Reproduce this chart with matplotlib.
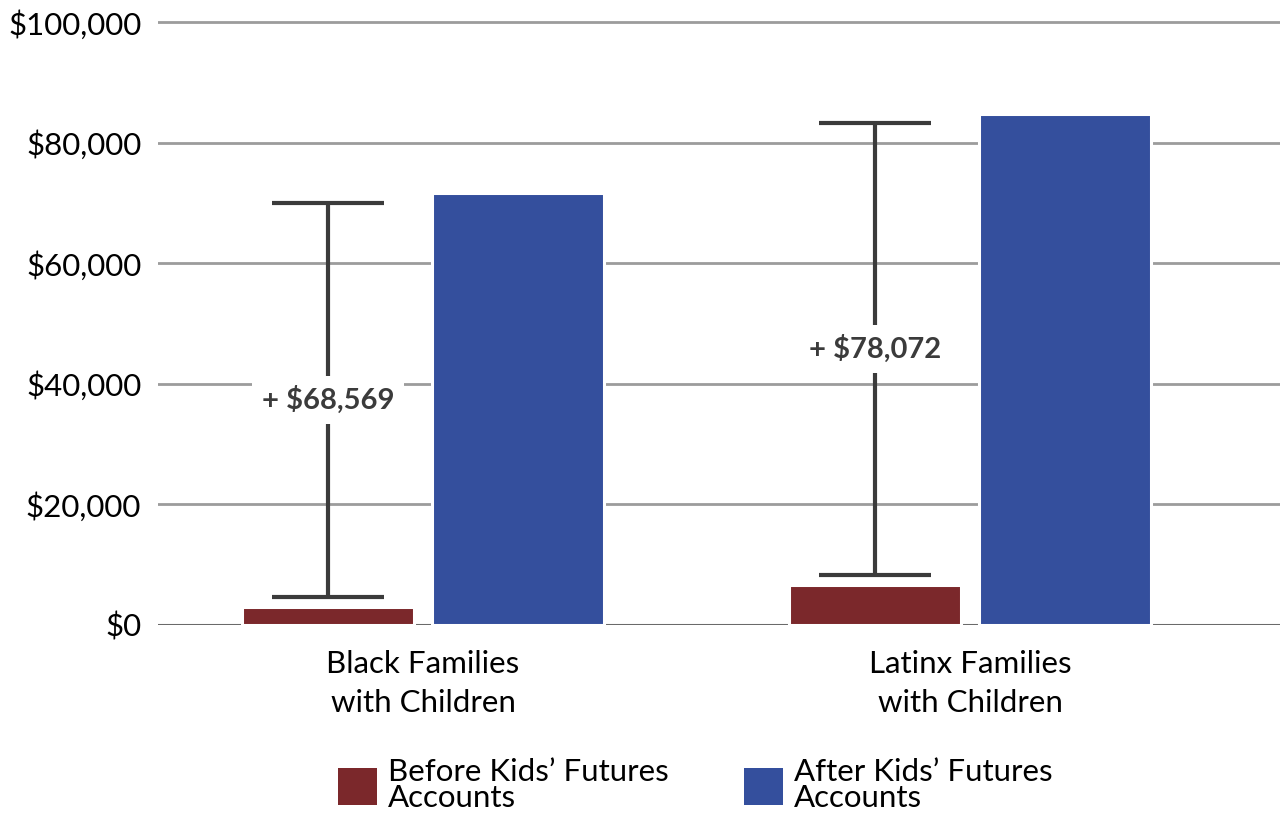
import matplotlib.pyplot as plt
from matplotlib.patches import Patch
from matplotlib.ticker import FuncFormatter

plt.rcParams['font.family'] = ['Lato', 'DejaVu Sans']

# median wealth by group, before and after the accounts
groups = ['Black Families\nwith Children', 'Latinx Families\nwith Children']
before = [3000, 6700]
gain = [68569, 78072]
after = [b + g for b, g in zip(before, gain)]

series_labels = ['Before Kids\u2019 Futures\nAccounts', 'After Kids\u2019 Futures\nAccounts']
yticks = [0, 20000, 40000, 60000, 80000, 100000]

RED = '#7b282b'
BLUE = '#344f9d'
DARK = '#3b3b3b'

fig = plt.figure(figsize=(12.8, 8.14), dpi=100)
ax = fig.add_axes([158 / 1280, 1 - 625 / 814, 1 - 158 / 1280, (625 - 19) / 814])

x = [0, 1]
offset = 0.1737
width = 0.316

ax.bar([i - offset for i in x], before, width=width, color=RED,
       edgecolor='white', linewidth=2.2, zorder=3)
ax.bar([i + offset for i in x], after, width=width, color=BLUE,
       edgecolor='white', linewidth=2.2, zorder=3)

# bracket showing the gain, with the value written across it
cap = 0.205
for i in x:
    cx = i - offset
    lo = before[i] + 1600
    hi = after[i] - 1550
    ax.vlines(cx, lo, hi, color=DARK, lw=3, zorder=4)
    ax.hlines([lo, hi], cx - cap / 2, cx + cap / 2, color=DARK, lw=3, zorder=4)
    ax.text(cx, (lo + hi) / 2, f'+ ${gain[i]:,}', ha='center', va='center',
            fontsize=21, fontweight='bold', color=DARK, zorder=5,
            bbox=dict(facecolor='white', edgecolor='none', pad=7))

ax.set_xlim(-0.4845, 1.5667)
ax.set_ylim(0, 100500)
ax.set_yticks(yticks)
ax.yaxis.set_major_formatter(FuncFormatter(lambda v, p: f'${v:,.0f}'))
ax.set_xticks(x)
ax.set_xticklabels(groups, linespacing=1.5)
ax.tick_params(axis='both', length=0, labelsize=22.5, colors='black')
ax.tick_params(axis='y', pad=12)
ax.tick_params(axis='x', pad=18)

ax.grid(axis='y', color='#9c9c9c', lw=2, zorder=0)
ax.set_axisbelow(True)
for s in ax.spines.values():
    s.set_visible(False)
ax.axhline(0, color='#6a6a6a', lw=2.2, zorder=2)

handles = [Patch(facecolor=RED, edgecolor='none'), Patch(facecolor=BLUE, edgecolor='none')]
leg = fig.legend(handles, series_labels, loc='center', ncol=2, frameon=False,
                 bbox_to_anchor=(695 / 1280, 1 - 785 / 814), fontsize=22.5,
                 handlelength=1.25, handleheight=1.45, handletextpad=0.35,
                 columnspacing=2.4)
for t in leg.get_texts():
    t.set_linespacing(0.95)

fig.savefig('out.png', dpi=100)
